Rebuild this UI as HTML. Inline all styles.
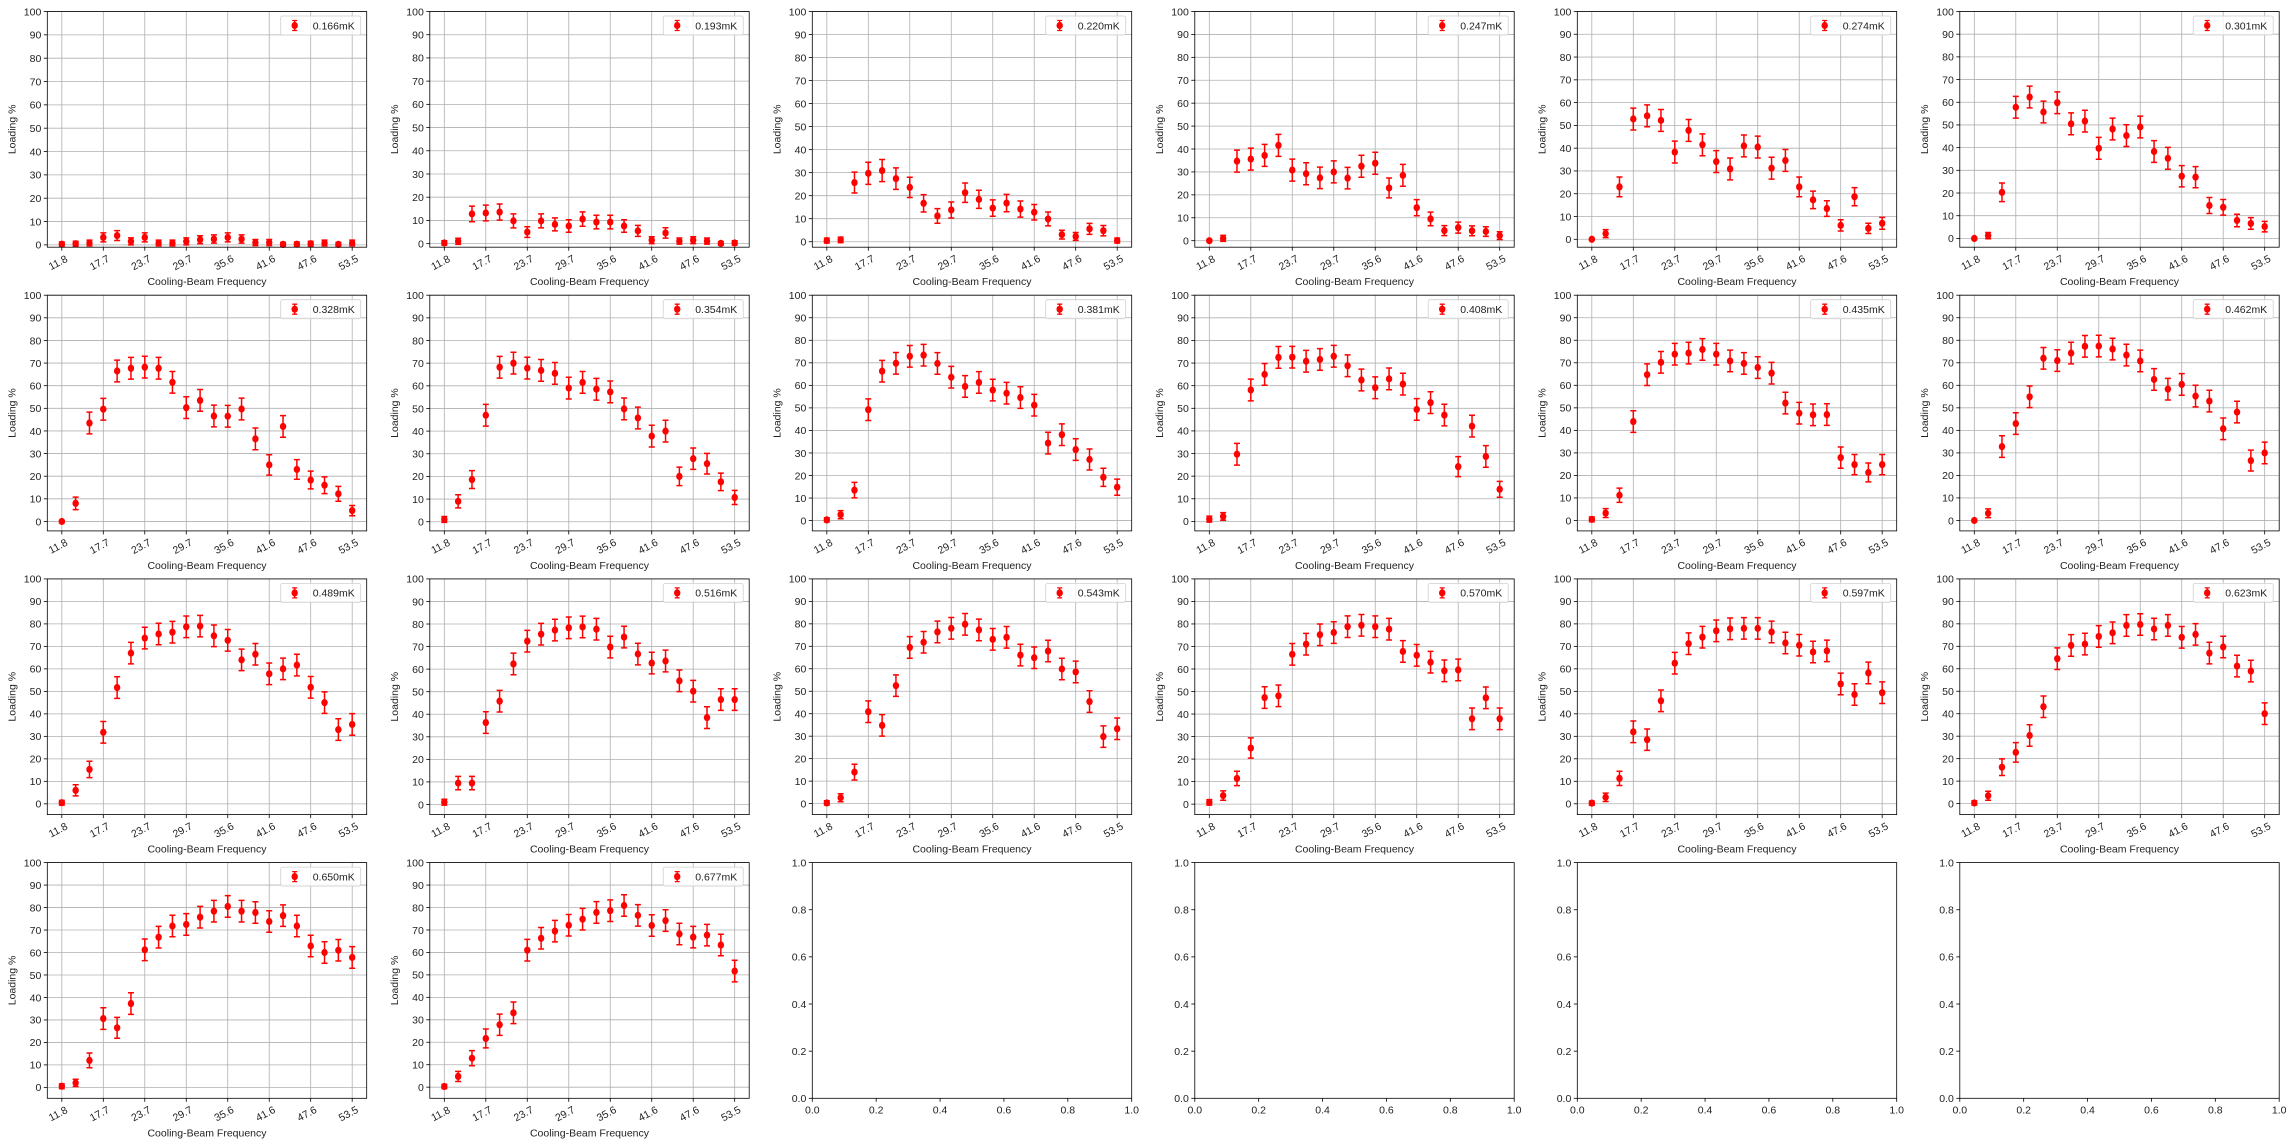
<!DOCTYPE html>
<html><head><meta charset="utf-8"><style>
html,body{margin:0;padding:0;background:#fff;}
svg{display:block;font-family:"Liberation Sans","DejaVu Sans",sans-serif;}
</style></head><body>
<svg id="fig" width="2294" height="1145" xmlns="http://www.w3.org/2000/svg"></svg>
<script>
const xTickLabels = ["11.8","17.7","23.7","29.7","35.6","41.6","47.6","53.5"];
const tempLabels = ["0.166mK","0.193mK","0.220mK","0.247mK","0.274mK","0.301mK","0.328mK","0.354mK","0.381mK","0.408mK","0.435mK","0.462mK","0.489mK","0.516mK","0.543mK","0.570mK","0.597mK","0.623mK","0.650mK","0.677mK"];
const s166 = [0.3,0.5,0.8,3.2,4,1.5,3.2,0.8,0.8,1.5,2.2,2.5,3.2,2.5,1,1,0.2,0.3,0.5,0.8,0.2,0.8];
const s193 = [0.3,1,12.8,13.2,13.6,9.8,5,9.8,8.3,7.6,10.6,9.3,9.3,7.6,5.5,1.5,4.6,1.1,1.5,1.1,0.1,0.3];
const s220 = [0.5,0.8,25.7,29.7,30.9,27.4,23.6,16.7,11.2,13.8,21.3,18.4,14.6,16.8,14.2,12.8,9.9,3.1,2.3,5.6,4.8,0.5];
const s247 = [0,1,34.7,35.6,37.2,41.6,30.8,29.2,27.4,30,27.3,32.5,33.8,23,28.5,14.4,9.5,4.4,5.7,4.3,4,2.2];
const s274 = [0,2.5,23,52.8,54.2,52.2,38.3,47.8,41.5,34.1,30.9,41,40.5,31.2,34.6,23,17.3,13.5,6.1,18.7,4.8,7];
const s301 = [0,1.2,20.3,57.8,62.3,55.7,59.8,50.5,51.7,39.7,48.2,45.3,49.1,38.3,35.3,27.4,27,14.5,13.7,7.9,6.6,5.2];
const s328 = [0,8,43.5,49.6,66.5,67.7,68.2,67.7,61.5,50.3,53.5,46.6,46.5,49.7,36.5,25,42,23,18.3,16,12.2,4.8];
const s354 = [1,9,18.6,47,68.2,70,67.8,66.8,65.5,59,61.5,58.5,57.3,49.8,45.8,37.8,40,20,27.8,25.6,17.6,10.7];
const s381 = [0.3,2.6,13.5,49.2,66.3,69.8,72.9,73.4,69.7,63.6,59.5,61.3,57.9,56.5,54.6,51.2,34.4,38.1,31.5,27.1,19.2,14.8];
const s408 = [1,2.2,29.7,58.1,65,72.5,72.6,70.8,71.6,73,68.8,62.5,59.1,63,60.7,49.5,52.5,47,24.2,42.1,28.7,14.2];
const s435 = [0.5,3.3,11.2,43.9,64.7,70.2,73.8,74.3,75.9,73.8,70.8,69.7,67.9,65.4,52.1,47.6,46.9,47,27.9,24.8,21.3,24.8];
const s462 = [0,3.2,32.8,43,54.9,72,71,74.3,77.3,77.4,76.1,73.4,70.8,62.6,58.3,60.4,55.2,53,40.7,48.1,26.6,30];
const s489 = [0.5,6,15.3,31.8,51.7,67,73.7,75.5,76.3,78.7,79,74.7,72.7,64,66.5,57.8,60,61.7,51.8,45,33,35.3];
const s516 = [1,9.5,9.5,36.3,45.8,62.3,72.4,75.5,77.3,78.3,78.7,77.7,69.8,74.2,66.7,62.7,63.6,54.8,50.2,38.5,46.5,46.5];
const s543 = [0.3,2.6,14,40.9,34.8,52.5,69.5,71.8,76.4,78,79.8,77.3,73.1,74,66.1,64.9,67.9,59.9,58.6,45.4,29.8,33.3];
const s570 = [0.8,3.8,11.4,24.9,47.3,48.1,66.5,71,75.2,76.2,78.8,79.4,78.8,77.7,67.8,66.1,63,59.2,59.6,37.9,47.2,37.9];
const s597 = [0.3,2.9,11.3,32,28.5,45.8,62.5,71.2,74.1,76.9,77.8,78,78,76.4,71.5,70.5,67.5,68,53.3,48.6,58.2,49.4];
const s623 = [0.3,3.5,16.2,22.8,30.3,43.1,64.5,70.4,71,74.4,76,79.3,79.7,77.7,79.3,74,75.3,67,69.7,61.2,59,40];
const s650 = [0.5,2,12,30.6,26.5,37.3,61.2,66.8,71.8,72.5,75.7,78.4,80.5,78.4,77.8,73.8,76.4,71.8,62.9,60,61,57.8];
const s677 = [0.3,4.8,12.9,21.7,27.8,33.1,61,66.3,69.5,72.1,74.8,77.8,78.6,80.9,76.5,72,74.2,68.2,66.8,67.7,63.3,51.7];
const allSeries = [s166,s193,s220,s247,s274,s301,s328,s354,s381,s408,s435,s462,s489,s516,s543,s570,s597,s623,s650,s677];
const emptyTicks = ["0.0","0.2","0.4","0.6","0.8","1.0"];

const NS = "http://www.w3.org/2000/svg";
const svg = document.getElementById('fig');
function mk(tag, attrs, parent){ const e=document.createElementNS(NS,tag); for(const k in attrs) e.setAttribute(k,attrs[k]); (parent||svg).appendChild(e); return e; }
const L0=47.3, CS=382.5, W=319.4, T0=11.5, RS=283.7, H=235.7;
function errOf(v){ return Math.min(4.8, 0.5+0.8*Math.sqrt(Math.max(v,0))); }

for(let p=0;p<24;p++){
  const col=p%6,row=Math.floor(p/6);
  const L=L0+col*CS, T=T0+row*RS, R=L+W, B=T+H;
  const g=mk('g',{});
  
  
  if(p>=20){
    const xs=v=>L+v*W, ys=v=>B-v*H;
    emptyTicks.forEach((t,i)=>{
      const v=i*0.2;
      const xl=mk('line',{x1:xs(v),x2:xs(v),y1:B,y2:B+3.5,stroke:'#000','stroke-width':0.8},g);
      const xt=mk('text',{x:xs(v),y:B+15,'font-size':10.5,'text-anchor':'middle',fill:'#222'},g); xt.textContent=t;
       
      mk('line',{x1:L-3.5,x2:L,y1:ys(v),y2:ys(v),stroke:'#000','stroke-width':0.8},g);
      const yt=mk('text',{x:L-6,y:ys(v)+3.8,'font-size':10.5,'text-anchor':'end',fill:'#222'},g); yt.textContent=t;
       
    });
    const fr=mk('rect',{x:L,y:T,width:W,height:H,fill:'none',stroke:'#000','stroke-width':0.8},g);
     
    continue;
  }
  const data=allSeries[p];
  let lo=Infinity, hi=-Infinity;
  data.forEach(v=>{ const e=errOf(v); lo=Math.min(lo,v-e); hi=Math.max(hi,v+e); });
  const ymin=lo-(hi-lo)*0.05, ymax=100;
  const n=data.length;
  const xs=i=>L+(i+1.05)/(n-1+2.1)*W;
  const ys=v=>B-(v-ymin)/(ymax-ymin)*H;
  // grid
  for(let v=0;v<=100;v+=10){
    const gl=mk('line',{x1:L,x2:R,y1:ys(v),y2:ys(v),stroke:'#b0b0b0','stroke-width':0.8},g);
     
    mk('line',{x1:L-3.5,x2:L,y1:ys(v),y2:ys(v),stroke:'#000','stroke-width':0.8},g);
    const yt=mk('text',{x:L-6,y:ys(v)+3.8,'font-size':10.5,'text-anchor':'end',fill:'#222'},g); yt.textContent=String(v);
     
  }
  xTickLabels.forEach((t,k)=>{
    const x=xs(k*3);
    const gl=mk('line',{x1:x,x2:x,y1:T,y2:B,stroke:'#b0b0b0','stroke-width':0.8},g);
     
    mk('line',{x1:x,x2:x,y1:B,y2:B+3.5,stroke:'#000','stroke-width':0.8},g);
    const xt=mk('text',{x:x-4,y:B+19,'font-size':10.5,'text-anchor':'middle',fill:'#222',transform:`rotate(-28 ${x-4} ${B+15})`},g); xt.textContent=t;
     
  });
  // series
  data.forEach((v,i)=>{
    const e=errOf(v), x=xs(i);
    const eb=mk('path',{d:`M${x},${ys(v-e)}V${ys(v+e)}M${x-3},${ys(v-e)}H${x+3}M${x-3},${ys(v+e)}H${x+3}`,stroke:'#ff0000','stroke-width':1.5,fill:'none'},g);
     
    const c=mk('ellipse',{cx:x,cy:ys(v),rx:3.2,ry:3.6,fill:'#ff0000'},g);
     
  });
  const fr=mk('rect',{x:L,y:T,width:W,height:H,fill:'none',stroke:'#000','stroke-width':0.8},g);
   
  // labels
  const xl=mk('text',{x:L+W/2,y:B+38,'font-size':10.5,'text-anchor':'middle',fill:'#222'},g); xl.textContent='Cooling-Beam Frequency';
   
  const yl=mk('text',{x:0,y:0,'font-size':10.5,'text-anchor':'middle',fill:'#222',transform:`translate(${L-32},${T+H/2}) rotate(-90)`},g); yl.textContent='Loading %';
   
  // legend
  const lg=mk('g',{},g);
   
  mk('rect',{x:R-86,y:T+4.5,width:80,height:19,rx:2,fill:'#fff','fill-opacity':0.8,stroke:'#d0d0d0','stroke-width':0.8},lg);
  const mx=R-72, my=T+14;
  mk('path',{d:`M${mx},${my-5}V${my+5}M${mx-2.5},${my-5}H${mx+2.5}M${mx-2.5},${my+5}H${mx+2.5}`,stroke:'#ff0000','stroke-width':1.3,fill:'none'},lg);
  mk('ellipse',{cx:mx,cy:my,rx:3.2,ry:3.6,fill:'#ff0000'},lg);
  const lt=mk('text',{x:R-54,y:my+3.8,'font-size':10.5,fill:'#222'},lg); lt.textContent=tempLabels[p];
   
}
</script>
</body></html>
